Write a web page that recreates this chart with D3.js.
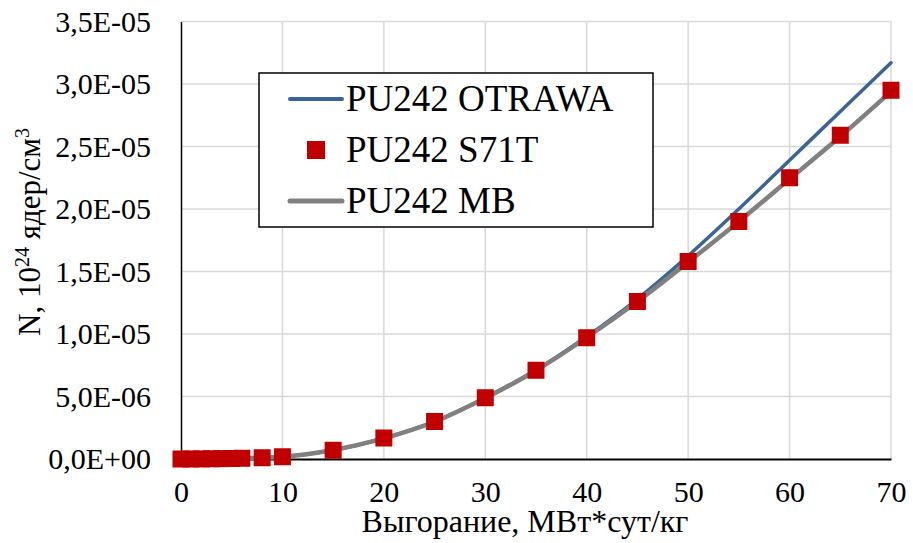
<!DOCTYPE html>
<html>
<head>
    <meta charset="UTF-8">
    <title>PU242</title>
    <script src="https://d3js.org/d3.v7.min.js"></script>
    <style>
        body {
            margin: 0;
            background: white;
        }
    </style>
</head>
<body>
    <svg id="chart" width="913" height="543"></svg>

    <script>
        // burnup, MWd/kg
        const burnup = [0, 1, 2, 3, 4, 5, 6, 8, 10, 15, 20, 25, 30, 35, 40, 45, 50, 55, 60, 65, 70];

        // nuclide density, 10^24 nuclei/cm3
        const otrawa = [0, 0.004e-6, 0.01e-6, 0.02e-6, 0.03e-6, 0.04e-6, 0.06e-6, 0.1e-6, 0.18e-6, 0.7e-6,
            1.66e-6, 3.0e-6, 4.9e-6, 7.12e-6, 9.8e-6, 12.8e-6, 16.25e-6, 20.0e-6, 23.9e-6, 27.8e-6, 31.7e-6];
        const s71t = [0, 0.004e-6, 0.01e-6, 0.02e-6, 0.03e-6, 0.04e-6, 0.06e-6, 0.1e-6, 0.18e-6, 0.7e-6,
            1.68e-6, 3.0e-6, 4.9e-6, 7.1e-6, 9.7e-6, 12.6e-6, 15.8e-6, 19.0e-6, 22.5e-6, 25.9e-6, 29.5e-6];
        const mb = [0, 0.004e-6, 0.01e-6, 0.02e-6, 0.03e-6, 0.04e-6, 0.06e-6, 0.1e-6, 0.18e-6, 0.72e-6,
            1.65e-6, 2.98e-6, 4.88e-6, 7.08e-6, 9.72e-6, 12.6e-6, 15.75e-6, 19.0e-6, 22.4e-6, 25.8e-6, 29.4e-6];

        const xTicks = [0, 10, 20, 30, 40, 50, 60, 70];
        const yTicks = [0, 5e-6, 1e-5, 1.5e-5, 2e-5, 2.5e-5, 3e-5, 3.5e-5];

        const legendLabels = ["PU242 OTRAWA", "PU242 S71T", "PU242 MB"];

        const FONT = `"Liberation Serif", serif`;

        const svg = d3.select("#chart");

        const x = d3.scaleLinear().domain([0, 70]).range([181, 891]);
        const y = d3.scaleLinear().domain([0, 3.5e-5]).range([459, 21.5]);

        // excel style "3,5E-05"
        function sciComma(v) {
            if (v === 0) return "0,0E+00";
            const exp = Math.floor(Math.log10(Math.abs(v)) + 1e-9);
            const mant = (v / Math.pow(10, exp)).toFixed(1).replace(".", ",");
            const sign = exp < 0 ? "-" : "+";
            return mant + "E" + sign + String(Math.abs(exp)).padStart(2, "0");
        }

        // gridlines
        svg.append("g")
            .selectAll("line")
            .data(yTicks.filter(d => d > 0))
            .enter()
            .append("line")
            .attr("x1", x(0))
            .attr("x2", x(70))
            .attr("y1", d => y(d))
            .attr("y2", d => y(d))
            .attr("stroke", "#d9d9d9")
            .attr("stroke-width", 1.5);

        svg.append("g")
            .selectAll("line")
            .data(xTicks.filter(d => d > 0))
            .enter()
            .append("line")
            .attr("x1", d => x(d))
            .attr("x2", d => x(d))
            .attr("y1", y(3.5e-5))
            .attr("y2", y(0))
            .attr("stroke", "#d9d9d9")
            .attr("stroke-width", 1.5);

        // axes
        const yAxis = svg.append("g")
            .attr("transform", `translate(${x(0)},0)`)
            .call(d3.axisLeft(y).tickValues(yTicks).tickFormat(sciComma).tickSize(0).tickPadding(30));
        yAxis.attr("font-family", FONT).attr("font-size", 30);
        yAxis.select(".domain").attr("stroke", "#000").attr("stroke-width", 1.5);
        yAxis.selectAll("text")
            .style("font-family", FONT)
            .style("font-size", "30px")
            .attr("fill", "#000");

        const xAxis = svg.append("g")
            .attr("transform", `translate(0,${y(0)})`)
            .call(d3.axisBottom(x).tickValues(xTicks).tickSize(0).tickPadding(22));
        xAxis.attr("font-family", FONT).attr("font-size", 30);
        xAxis.select(".domain").attr("stroke", "#000").attr("stroke-width", 2);
        xAxis.selectAll("text")
            .style("font-family", FONT)
            .style("font-size", "30px")
            .attr("fill", "#000");

        // series
        const pts = arr => burnup.map((b, i) => [b, arr[i]]);
        const line = d3.line()
            .x(d => x(d[0]))
            .y(d => y(d[1]))
            .curve(d3.curveMonotoneX);

        svg.append("path")
            .attr("d", line(pts(otrawa)))
            .attr("fill", "none")
            .attr("stroke", "#3b6496")
            .attr("stroke-width", 3.5)
            .attr("stroke-linecap", "round");

        svg.append("path")
            .attr("d", line(pts(mb)))
            .attr("fill", "none")
            .attr("stroke", "#808080")
            .attr("stroke-width", 4.5)
            .attr("stroke-linecap", "round");

        const ms = 17;
        svg.append("g")
            .selectAll("rect")
            .data(pts(s71t))
            .enter()
            .append("rect")
            .attr("x", d => x(d[0]) - ms / 2)
            .attr("y", d => y(d[1]) - ms / 2)
            .attr("width", ms)
            .attr("height", ms)
            .attr("fill", "#c00000");

        // legend
        const legend = svg.append("g");
        legend.append("rect")
            .attr("x", 259)
            .attr("y", 73)
            .attr("width", 394)
            .attr("height", 154)
            .attr("fill", "white")
            .attr("stroke", "#000")
            .attr("stroke-width", 1.5);

        const rowY = [99, 150, 201];
        legend.append("line")
            .attr("x1", 290).attr("x2", 342)
            .attr("y1", rowY[0]).attr("y2", rowY[0])
            .attr("stroke", "#3b6496").attr("stroke-width", 4).attr("stroke-linecap", "round");
        legend.append("rect")
            .attr("x", 316 - 9).attr("y", rowY[1] - 9)
            .attr("width", 18).attr("height", 18)
            .attr("fill", "#c00000");
        legend.append("line")
            .attr("x1", 290).attr("x2", 342)
            .attr("y1", rowY[2]).attr("y2", rowY[2])
            .attr("stroke", "#808080").attr("stroke-width", 5).attr("stroke-linecap", "round");

        legend.selectAll("text.lbl")
            .data(legendLabels)
            .enter()
            .append("text")
            .attr("class", "lbl")
            .attr("x", 346)
            .attr("y", (d, i) => rowY[i] + 12)
            .style("font-family", FONT)
            .style("font-size", "37px")
            .text(d => d);

        // axis titles
        svg.append("text")
            .attr("x", 525)
            .attr("y", 532)
            .attr("text-anchor", "middle")
            .style("font-family", FONT)
            .style("font-size", "32px")
            .text("Выгорание, МВт*сут/кг");

        const yt = svg.append("text")
            .attr("transform", "translate(40,232) rotate(-90)")
            .attr("text-anchor", "middle")
            .style("font-family", FONT)
            .style("font-size", "31px");
        yt.append("tspan").text("N, 10");
        yt.append("tspan").attr("dy", -11).style("font-size", "20px").text("24");
        yt.append("tspan").attr("dy", 11).text(" ядер/см");
        yt.append("tspan").attr("dy", -11).style("font-size", "20px").text("3");
    </script>
</body>
</html>
